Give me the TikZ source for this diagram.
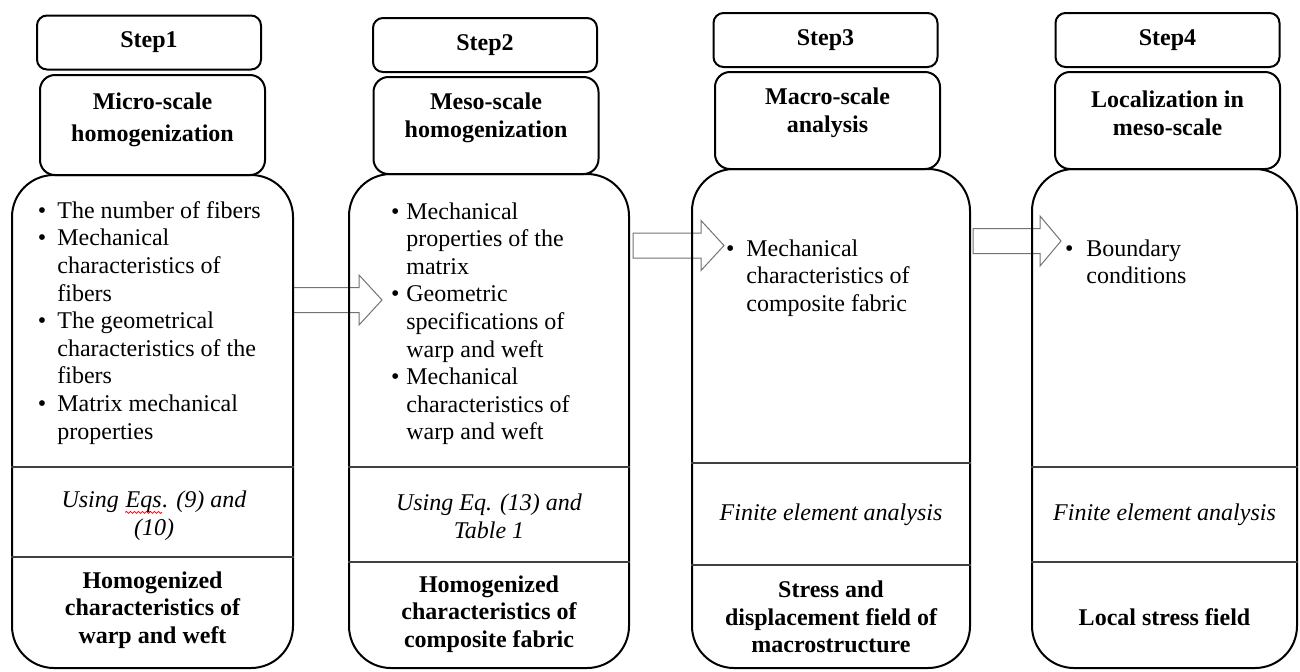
\documentclass[tikz,border=0pt]{standalone}
\usepackage{fontspec}
\setmainfont{Liberation Serif}
\usetikzlibrary{decorations.pathmorphing}
\newcommand\spellwave[1]{\tikz[baseline, x=1pt, y=1pt]{\node[inner sep=0pt, anchor=base] (sw) {#1};
    \draw[red, line width=0.4pt, decorate, decoration={snake, amplitude=0.5pt, segment length=2pt}] ([yshift=-2.2pt]sw.base west) -- ([yshift=-2.2pt]sw.base east);}}
\newcommand\bul[1]{\llap{\textbullet\hspace{#1}}}
\begin{document}
\begin{tikzpicture}[x=0.5pt, y=-0.5pt,
    stepbox/.style={draw, line width=1pt, rounded corners=5pt, font=\bfseries\fontsize{12}{13.8}\selectfont},
    titlebox/.style={draw, line width=1pt, rounded corners=7.5pt},
    bodybox/.style={draw, line width=1pt, rounded corners=21pt},
    divider/.style={line width=0.75pt, black!75},
    blockarrow/.style={draw=black!55, fill=white, line width=0.5pt},
    titletext/.style={align=center, inner sep=0pt, font=\bfseries\fontsize{12}{13.8}\selectfont},
    listtext/.style={align=left, inner sep=0pt, anchor=north west, font=\fontsize{12}{13.8}\selectfont},
    methodtext/.style={align=center, inner sep=0pt, font=\itshape\fontsize{12}{13.8}\selectfont},
    resulttext/.style={align=center, inner sep=0pt, font=\bfseries\fontsize{12}{13.8}\selectfont}]
    \useasboundingbox (0,0) rectangle (1300,671);
    % arrows between the steps
    \foreach \src/\y/\len/\hd in {1/300/66/23, 2/245.5/68/23, 3/241/67/21}
        \filldraw[blockarrow] (\src*340-47,\y) -- ++(0,-12.5) -- ++(\len,0) -- ++(0,-12.5) -- ++(\hd,25) -- ++(-\hd,25) -- ++(0,-12.5) -- ++(-\len,0) -- cycle;
    % boxes
    \foreach \i/\x/\y in {1/149/42.5, 2/485/45, 3/825.5/40, 4/1167.5/40}
        \node[stepbox, minimum width=112pt, minimum height=27pt] (s\i) at (\x,\y) {Step\i};
    \foreach \i/\x/\y/\h in {1/152.5/125/100, 2/486/125.5/97, 3/827.5/120.5/97, 4/1167.5/120.5/97}
        \node[titlebox, minimum width=112.5pt, minimum height=\h*0.5pt] (t\i) at (\x,\y) {};
    \foreach \i/\x/\y/\w/\h in {1/152.5/421.5/281/493, 2/489/421/280/494, 3/831/418.5/278/499, 4/1164.5/418.5/265/499}
        \node[bodybox, minimum width=\w*0.5pt, minimum height=\h*0.5pt] (b\i) at (\x,\y) {};
    \foreach \i/\ya/\yb in {1/467/557, 2/467/562, 3/463/565, 4/467/562} {
        \draw[divider] (b\i.west |- 0,\ya) -- (b\i.east |- 0,\ya);
        \draw[divider] (b\i.west |- 0,\yb) -- (b\i.east |- 0,\yb);
    }
    % titles
    \node[titletext] (h1) at (152.5,120) {Micro-scale\\[2.2pt]homogenization};
    \node[titletext] (h2) at (486,118) {Meso-scale\\homogenization};
    \node[titletext] (h3) at (827.5,113) {Macro-scale\\analysis};
    \node[titletext] (h4) at (1167.5,113) {Localization in\\meso-scale};
    % inputs
    \node[listtext] (l1) at (57,201) {\bul{5.5pt}The number of fibers\\ \bul{5.5pt}Mechanical\\ characteristics of\\ fibers\\ \bul{5.5pt}The geometrical\\ characteristics of the\\ fibers\\ \bul{5.5pt}Matrix mechanical\\ properties};
    \node[listtext] (l2) at (406,202) {\bul{3.5pt}Mechanical\\ properties of the\\ matrix\\ \bul{3.5pt}Geometric\\ specifications of\\ warp and weft\\ \bul{3.5pt}Mechanical\\ characteristics of\\ warp and weft};
    \node[listtext] (l3) at (746,239) {\bul{6pt}Mechanical\\ characteristics of\\ composite fabric};
    \node[listtext] (l4) at (1086,239) {\bul{6.5pt}Boundary\\ conditions};
    % methods
    \node[methodtext] (m1) at (154,516) {Using \spellwave{Eqs}. (9) and\\(10)};
    \node[methodtext] (m2) at (489,516) {Using Eq. (13) and\\Table 1};
    \node[methodtext] (m3) at (831,515) {Finite element analysis};
    \node[methodtext] (m4) at (1164.5,515) {Finite element analysis};
    % results
    \node[resulttext] (r1) at (152.5,610) {Homogenized\\characteristics of\\warp and weft};
    \node[resulttext] (r2) at (489,614) {Homogenized\\characteristics of\\composite fabric};
    \node[resulttext] (r3) at (831,617) {Stress and\\displacement field of\\macrostructure};
    \node[resulttext] (r4) at (1164.5,617) {Local stress field};
\end{tikzpicture}
\end{document}
